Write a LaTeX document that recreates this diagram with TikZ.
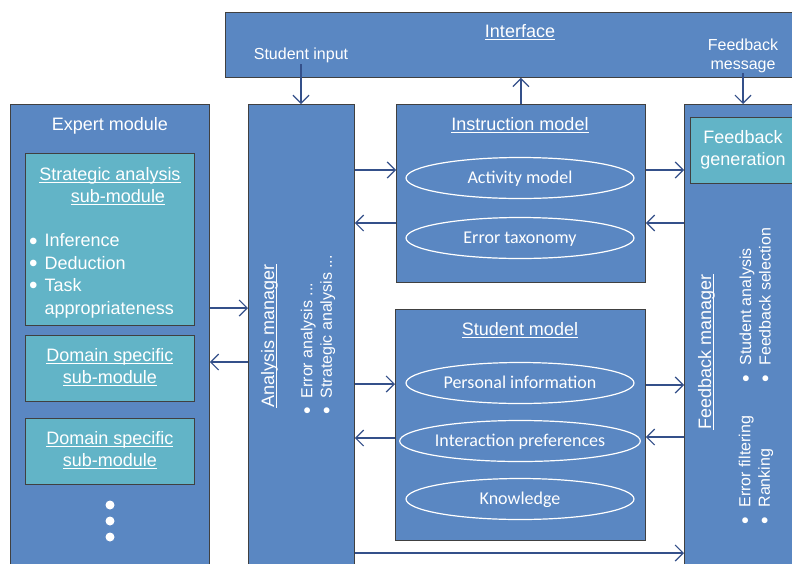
\documentclass[tikz,border=0pt]{standalone}
\usepackage{fontspec}
\usepackage{graphicx}
\setmainfont{Liberation Sans}
\newfontfamily\calfont{Carlito}
\usetikzlibrary{shapes.geometric,arrows.meta}
\definecolor{boxblue}{HTML}{5A87C2}
\definecolor{subteal}{HTML}{62B4C7}
\definecolor{edgegrey}{HTML}{404040}
\definecolor{arrowc}{HTML}{34508A}
\newcommand\myul[1]{\setbox0\hbox{#1}\rlap{\rule[-2.4pt]{\wd0}{0.9pt}}\box0}
\newcommand\mybul{\raisebox{-0.12em}{\scalebox{1.35}{\textbullet}}}
\begin{document}
\begin{tikzpicture}[x=1pt,y=-1pt,
  box/.style={draw=edgegrey, fill=boxblue, line width=0.8pt, inner sep=0pt, anchor=north west},
  subbox/.style={draw=edgegrey, fill=subteal, line width=0.8pt, inner sep=0pt, anchor=north west},
  ell/.style={ellipse, draw=white, line width=1.2pt, minimum width=228pt, minimum height=41pt, inner sep=0pt,
              text height=11.6pt, text depth=0pt,
              text=white, font=\calfont\fontsize{18}{21}\selectfont},
  big/.style={text=white, inner sep=0pt, align=center, font=\fontsize{18}{22.4}\selectfont},
  small/.style={text=white, inner sep=0pt, align=center, font=\fontsize{16}{19.5}\selectfont},
  arr/.style={draw=arrowc, line width=1.2pt, -{Straight Barb[length=8pt,width=16pt]}},
  dot/.style={circle, fill=white, minimum size=9pt, inner sep=0pt}
]
\useasboundingbox (0,0) rectangle (792,563);
\clip (0,0) rectangle (792,563);
\fill[white] (0,0) rectangle (792,563);

% boxes
\node[box, minimum width=580pt, minimum height=65pt] (iface) at (225,12) {};
\node[box, minimum width=199pt, minimum height=470pt] (expert) at (10,104) {};
\node[box, minimum width=106pt, minimum height=470pt] (anal) at (248,104) {};
\node[box, minimum width=249pt, minimum height=178pt] (instr) at (396,104) {};
\node[box, minimum width=250pt, minimum height=231pt] (stud) at (395,309) {};
\node[box, minimum width=120pt, minimum height=470pt] (fbman) at (684,104) {};
\node[subbox, minimum width=120pt, minimum height=66pt] (fbgen) at (690,117) {};
\node[subbox, minimum width=169pt, minimum height=172pt] (strat) at (25,153) {};
\node[subbox, minimum width=169pt, minimum height=66pt] (dom1) at (25,335) {};
\node[subbox, minimum width=169pt, minimum height=66pt] (dom2) at (25,418) {};

% interface texts
\node[big] (ifacet) at (520,32) {\myul{Interface}};
\node[small] (sin) at (301,55.5) {Student input};
\node[small] (fbm) at (743,56) {Feedback\\message};

% expert module
\node[big] (expt) at (110,125.5) {Expert module};
\node[big] (stratt) at (110,186) {\myul{Strategic analysis}\\\hspace*{16pt}\myul{sub-module}};
\node[text=white, inner sep=0pt, anchor=west, font=\fontsize{18}{22.4}\selectfont] (stratl) at (29,276)
  {\begin{tabular}{@{}l@{\hspace{7pt}}l@{}}\mybul & Inference\\ \mybul & Deduction\\ \mybul & Task\\ & appropriateness\end{tabular}};
\node[big, yshift=1pt] (dom1t) at (dom1) {\myul{Domain specific}\\\myul{sub-module}};
\node[big, yshift=1pt] (dom2t) at (dom2) {\myul{Domain specific}\\\myul{sub-module}};
\node[dot] (d1) at (110,505) {};
\node[dot] (d2) at (110,521) {};
\node[dot] (d3) at (110,537) {};

% analysis manager
\node[big, rotate=90] (analt) at (269.5,336) {\myul{Analysis manager}};
\node[small, rotate=90, align=left] (anall) at (318,335)
  {\mybul\hspace{9pt}Error analysis ...\\\mybul\hspace{9pt}Strategic analysis ...};

% instruction model
\node[big] (instrt) at (520,125.5) {\myul{Instruction model}};
\node[ell] (act) at (520,178) {Activity model};
\node[ell] (err) at (520,238) {Error taxonomy};

% student model
\node[big] (studt) at (520,330.5) {\myul{Student model}};
\node[ell] (pers) at (520,383) {Personal information};
\node[ell] (inter) at (520,441) {Interaction preferences};
\node[ell] (know) at (520,499) {Knowledge};

% feedback manager
\node[big] (fbgent) at (743,150) {Feedback\\generation};
\node[big, rotate=90] (fbmant) at (706.5,352) {\myul{Feedback manager}};
\node[small, rotate=90, align=left] (fbl1) at (756,305)
  {\mybul\hspace{9pt}Student analysis\\\mybul\hspace{9pt}Feedback selection};
\node[small, rotate=90, align=left] (fbl2) at (756,470)
  {\mybul\hspace{9pt}Error filtering\\\mybul\hspace{9pt}Ranking};

% connectors
\draw[arr] (sin.south |- 0,64) -- (anal.north -| sin.south);
\draw[arr] (instr.north) -- (iface.south -| instr.north);
\draw[arr] (fbm.south |- 0,73) -- (fbman.north -| fbm.south);
\draw[arr] (expert.east |- 0,308) -- (anal.west |- 0,308);
\draw[arr] (anal.west |- 0,362) -- (expert.east |- 0,362);
\draw[arr] (anal.east |- 0,170) -- (instr.west |- 0,170);
\draw[arr] (instr.west |- 0,223) -- (anal.east |- 0,223);
\draw[arr] (instr.east |- 0,170) -- (fbman.west |- 0,170);
\draw[arr] (fbman.west |- 0,223) -- (instr.east |- 0,223);
\draw[arr] (anal.east |- 0,384) -- (stud.west |- 0,384);
\draw[arr] (stud.west |- 0,438) -- (anal.east |- 0,438);
\draw[arr] (stud.east |- 0,385) -- (fbman.west |- 0,385);
\draw[arr] (fbman.west |- 0,437) -- (stud.east |- 0,437);
\draw[arr] (anal.east |- 0,553) -- (fbman.west |- 0,553);
\end{tikzpicture}
\end{document}
